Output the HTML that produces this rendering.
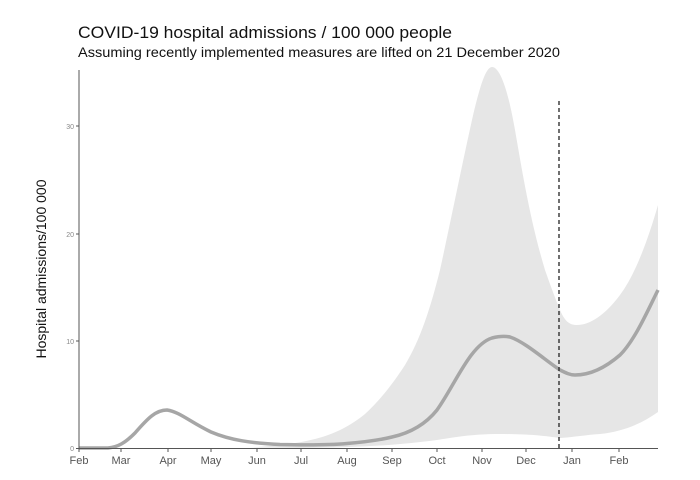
<!DOCTYPE html>
<html><head><meta charset="utf-8"><style>
html,body{margin:0;padding:0;background:#fff;}
svg{display:block;font-family:"Liberation Sans",Arial,sans-serif;}
</style></head><body>
<svg width="700" height="480" viewBox="0 0 700 480" xmlns="http://www.w3.org/2000/svg">
<rect width="700" height="480" fill="#fff"/>
<text x="78" y="38" font-size="17" fill="#111" textLength="374" lengthAdjust="spacingAndGlyphs">COVID-19 hospital admissions / 100 000 people</text>
<text x="78" y="57" font-size="14" fill="#111" textLength="482" lengthAdjust="spacingAndGlyphs">Assuming recently implemented measures are lifted on 21 December 2020</text>
<!-- band -->
<path d="M250,447.5 C275,446 295,444 315,439 C335,434 350,426 365,414 C380,400 392,385 405,365 C420,340 430,310 440,270 C452,215 462,165 472,120 C480,85 486,67 492,67 C500,67 508,90 515,130 C522,170 530,220 545,270 C552,290 556,300 560,310 C565,322 570,325 577,325 C590,325 605,315 620,295 C635,275 648,240 658,205 L658,412 C640,425 620,432 600,434 C585,435 575,437 560,438 C545,436 530,434 500,434 C470,434 450,438 437,440 C400,445 360,447.5 300,448 Z" fill="#e6e6e6"/>
<!-- median -->
<path d="M79,448 L108,448 C118,447 125,443 135,433 C148,418 156,410 167,410 C180,412 190,422 211,432 C230,440 250,443 280,444.5 C300,445 330,445 347,443.5 C365,442 380,440 392,437 C410,433 425,425 437,410 C455,385 470,345 492,338 C500,336 505,336 510,337 C525,342 545,360 560,370 C566,373 570,375 575,375 C590,375 605,368 620,355 C635,340 648,310 658,290" fill="none" stroke="#a6a6a6" stroke-width="3.5"/>
<!-- dashed -->
<line x1="559" y1="101" x2="559" y2="448" stroke="#222" stroke-width="1.3" stroke-dasharray="4,3"/>
<!-- axes -->
<line x1="79" y1="70" x2="79" y2="448.5" stroke="#555" stroke-width="1"/>
<line x1="79" y1="448.5" x2="658" y2="448.5" stroke="#555" stroke-width="1"/>
<g stroke="#555" stroke-width="1">
<line x1="76" y1="448.5" x2="79" y2="448.5"/><line x1="76" y1="341" x2="79" y2="341"/><line x1="76" y1="234" x2="79" y2="234"/><line x1="76" y1="126" x2="79" y2="126"/>
</g>
<g font-size="7" fill="#888" text-anchor="end">
<text x="74" y="451">0</text><text x="74" y="344">10</text><text x="74" y="237">20</text><text x="74" y="129">30</text>
</g>
<g stroke="#555" stroke-width="1">
<line x1="79" y1="448" x2="79" y2="452"/><line x1="121" y1="448" x2="121" y2="452"/><line x1="168" y1="448" x2="168" y2="452"/><line x1="211" y1="448" x2="211" y2="452"/><line x1="257" y1="448" x2="257" y2="452"/><line x1="301" y1="448" x2="301" y2="452"/><line x1="347" y1="448" x2="347" y2="452"/><line x1="392" y1="448" x2="392" y2="452"/><line x1="437" y1="448" x2="437" y2="452"/><line x1="482" y1="448" x2="482" y2="452"/><line x1="526" y1="448" x2="526" y2="452"/><line x1="572" y1="448" x2="572" y2="452"/><line x1="619" y1="448" x2="619" y2="452"/>
</g>
<g font-size="11" fill="#555" text-anchor="middle">
<text x="79" y="464">Feb</text><text x="121" y="464">Mar</text><text x="168" y="464">Apr</text><text x="211" y="464">May</text><text x="257" y="464">Jun</text><text x="301" y="464">Jul</text><text x="347" y="464">Aug</text><text x="392" y="464">Sep</text><text x="437" y="464">Oct</text><text x="482" y="464">Nov</text><text x="526" y="464">Dec</text><text x="572" y="464">Jan</text><text x="619" y="464">Feb</text>
</g>
<text transform="translate(46,269) rotate(-90)" font-size="14" fill="#111" text-anchor="middle">Hospital admissions/100 000</text>
</svg>
</body></html>
